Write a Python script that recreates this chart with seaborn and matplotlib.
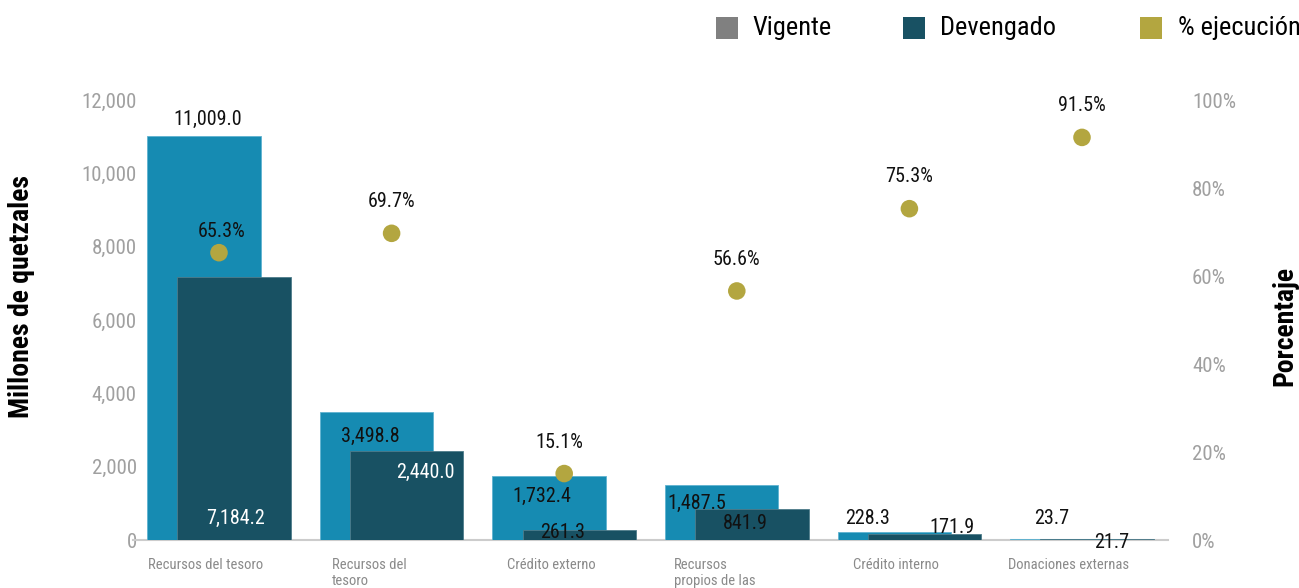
import numpy as np
import pandas as pd
import matplotlib
matplotlib.use("Agg")
import matplotlib.pyplot as plt
import matplotlib.transforms as mtransforms
from matplotlib import font_manager as fm
from matplotlib.patches import Rectangle
import seaborn as sns

# Data
categorias = ["Recursos del tesoro", "Recursos del\ntesoro", "Crédito externo",
              "Recursos\npropios de las", "Crédito interno", "Donaciones externas"]
vigente = [11009.0, 3498.8, 1732.4, 1487.5, 228.3, 23.7]
devengado = [7184.2, 2440.0, 261.3, 841.9, 171.9, 21.7]
ejecucion = [65.3, 69.7, 15.1, 56.6, 75.3, 91.5]

# Colors
C_VIG = "#168bb2"
C_DEV = "#185163"
C_PCT = "#b3a640"
C_LEG_VIG = "#808080"

# label offsets (pixels) for the value labels
vig_off = [(4, 17), (-6, -25), (-7, -20), (-25, -18), (-27, 13), (-15, 21)]
dev_off = [(1, -242), (19, -22), (-17, -2), (-7, -14), (27, 6), (14, -3)]
pct_off = [(3, 21), (0, 32), (-5, 31), (0, 31), (0, 32), (0, 32)]
dev_txt_color = ["white", "white", "#111111", "#111111", "#111111", "#111111"]


# pick a narrow / condensed font if one is installed
def pick_font():
    fonts = fm.fontManager.ttflist
    names = {f.name for f in fonts}
    for cand in ["Roboto Condensed", "Liberation Sans Narrow", "Open Sans Condensed",
                 "Noto Sans Condensed", "Arial Narrow"]:
        if cand in names:
            return cand, "normal", 1.0
    for fam in ["Roboto", "Noto Sans", "Open Sans", "DejaVu Sans"]:
        for f in fonts:
            if f.name == fam and str(f.stretch) in ("condensed", "semi-condensed",
                                                    "extra-condensed", "75", "87"):
                return fam, "condensed", 1.0
    return "Roboto", "normal", 0.85


FONT, STRETCH, K = pick_font()

sns.set_theme(style="white")
plt.rcParams["font.family"] = [FONT, "DejaVu Sans"]
plt.rcParams["font.stretch"] = STRETCH

W, H = 1299, 588
fig = plt.figure(figsize=(W / 100, H / 100), dpi=100)

# background gradient (white -> light grey at the bottom)
bg = fig.add_axes([0, 0, 1, 1], zorder=-10)
rows = np.ones(H)
yy = np.arange(H)
mask = yy > 430
rows[mask] = 1 - 0.05 * (yy[mask] - 430) / (H - 430)
img = np.dstack([rows, rows, rows])[:, :1, :].repeat(10, axis=1)
bg.imshow(img, aspect="auto", extent=[0, 1, 0, 1])
bg.axis("off")

ax = fig.add_axes([132.7 / W, 48 / H, 1035.6 / W, 440 / H])
ax.patch.set_visible(False)

n = len(categorias)
pos = np.arange(n)
shift = 0.088
df = pd.DataFrame({
    "cat": categorias,
    "pos_v": pos - shift,
    "pos_d": pos + shift,
    "vigente": vigente,
    "devengado": devengado,
    "ejecucion": ejecucion,
})

sns.barplot(data=df, x="pos_v", y="vigente", native_scale=True, width=0.657,
            color=C_VIG, saturation=1, errorbar=None, ax=ax,
            edgecolor="#5fb3d0", linewidth=0.6, zorder=3)
sns.barplot(data=df, x="pos_d", y="devengado", native_scale=True, width=0.657,
            color=C_DEV, saturation=1, errorbar=None, ax=ax,
            edgecolor="#4f7c8a", linewidth=0.6, zorder=3)

ax.set_xlim(-0.5, n - 0.5)
ax.set_ylim(0, 12000)
ax.set_yticks(range(0, 12001, 2000))
ax.set_yticklabels([f"{v:,}" for v in range(0, 12001, 2000)])
ax.set_xticks(pos)
ax.set_xticklabels(categorias, ha="center", multialignment="left")
ax.set_xlabel("")
ax.set_ylabel("")
ax.tick_params(axis="y", length=0, pad=-3, labelsize=15 * K, labelcolor="#a0a0a0")
ax.tick_params(axis="x", length=0, pad=13, labelsize=10.5 * K, labelcolor="#8a8a8a")
for lab in ax.get_xticklabels():
    dx = -22 if "\n" in lab.get_text() else -13
    tr = mtransforms.ScaledTranslation(dx / 100, 0, fig.dpi_scale_trans)
    lab.set_transform(lab.get_transform() + tr)
for s in ["top", "right", "left"]:
    ax.spines[s].set_visible(False)
ax.spines["bottom"].set_color("#cccccc")
ax.spines["bottom"].set_linewidth(1.5)
ax.spines["bottom"].set_zorder(1)
ax.grid(False)

# value labels on bars
for i in range(n):
    ax.annotate(f"{vigente[i]:,.1f}", xy=(df.pos_v[i], vigente[i]),
                xytext=vig_off[i], textcoords="offset pixels",
                ha="center", va="center", fontsize=14.5 * K, color="#111111",
                zorder=6)
    ax.annotate(f"{devengado[i]:,.1f}", xy=(df.pos_d[i], devengado[i]),
                xytext=dev_off[i], textcoords="offset pixels",
                ha="center", va="center", fontsize=14.5 * K, color=dev_txt_color[i],
                zorder=6)

# percentage axis
ax2 = ax.twinx()
ax2.patch.set_visible(False)
sns.scatterplot(x=pos, y=ejecucion, ax=ax2, s=160, color=C_PCT,
                edgecolor="none", zorder=5, legend=False)
ax2.set_ylim(0, 99.4)
ax2.set_xlim(-0.5, n - 0.5)
ax2.set_yticks(range(0, 101, 20))
ax2.set_yticklabels([f"{v}%" for v in range(0, 101, 20)])
ax2.tick_params(axis="y", length=0, pad=17, labelsize=15 * K, labelcolor="#a0a0a0")
ax2.set_ylabel("")
for s in ax2.spines.values():
    s.set_visible(False)
ax2.grid(False)
for i in range(n):
    ax2.annotate(f"{ejecucion[i]:.1f}%", xy=(pos[i], ejecucion[i]),
                 xytext=pct_off[i], textcoords="offset pixels",
                 ha="center", va="center", fontsize=14.5 * K, color="#111111")

# axis titles
fig.text(22 / W, 1 - 297 / H, "Millones de quetzales", rotation=90, ha="center",
         va="center", fontsize=20 * K, fontweight="bold", color="black")
fig.text(1285 / W, 1 - 326 / H, "Porcentaje", rotation=90, ha="center",
         va="center", fontsize=20 * K, fontweight="bold", color="black")

# legend
leg_items = [("Vigente", C_LEG_VIG, 716, 752),
             ("Devengado", C_DEV, 903, 940),
             ("% ejecución", C_PCT, 1140, 1178)]
for txt, col, xs, xt in leg_items:
    fig.add_artist(Rectangle((xs / W, 1 - 39 / H), 22 / W, 22 / H,
                             transform=fig.transFigure, color=col, lw=0))
    fig.text(xt / W, 1 - 28 / H, txt, ha="left", va="center", fontsize=19 * K,
             color="black")

fig.savefig("out.png", dpi=100)
